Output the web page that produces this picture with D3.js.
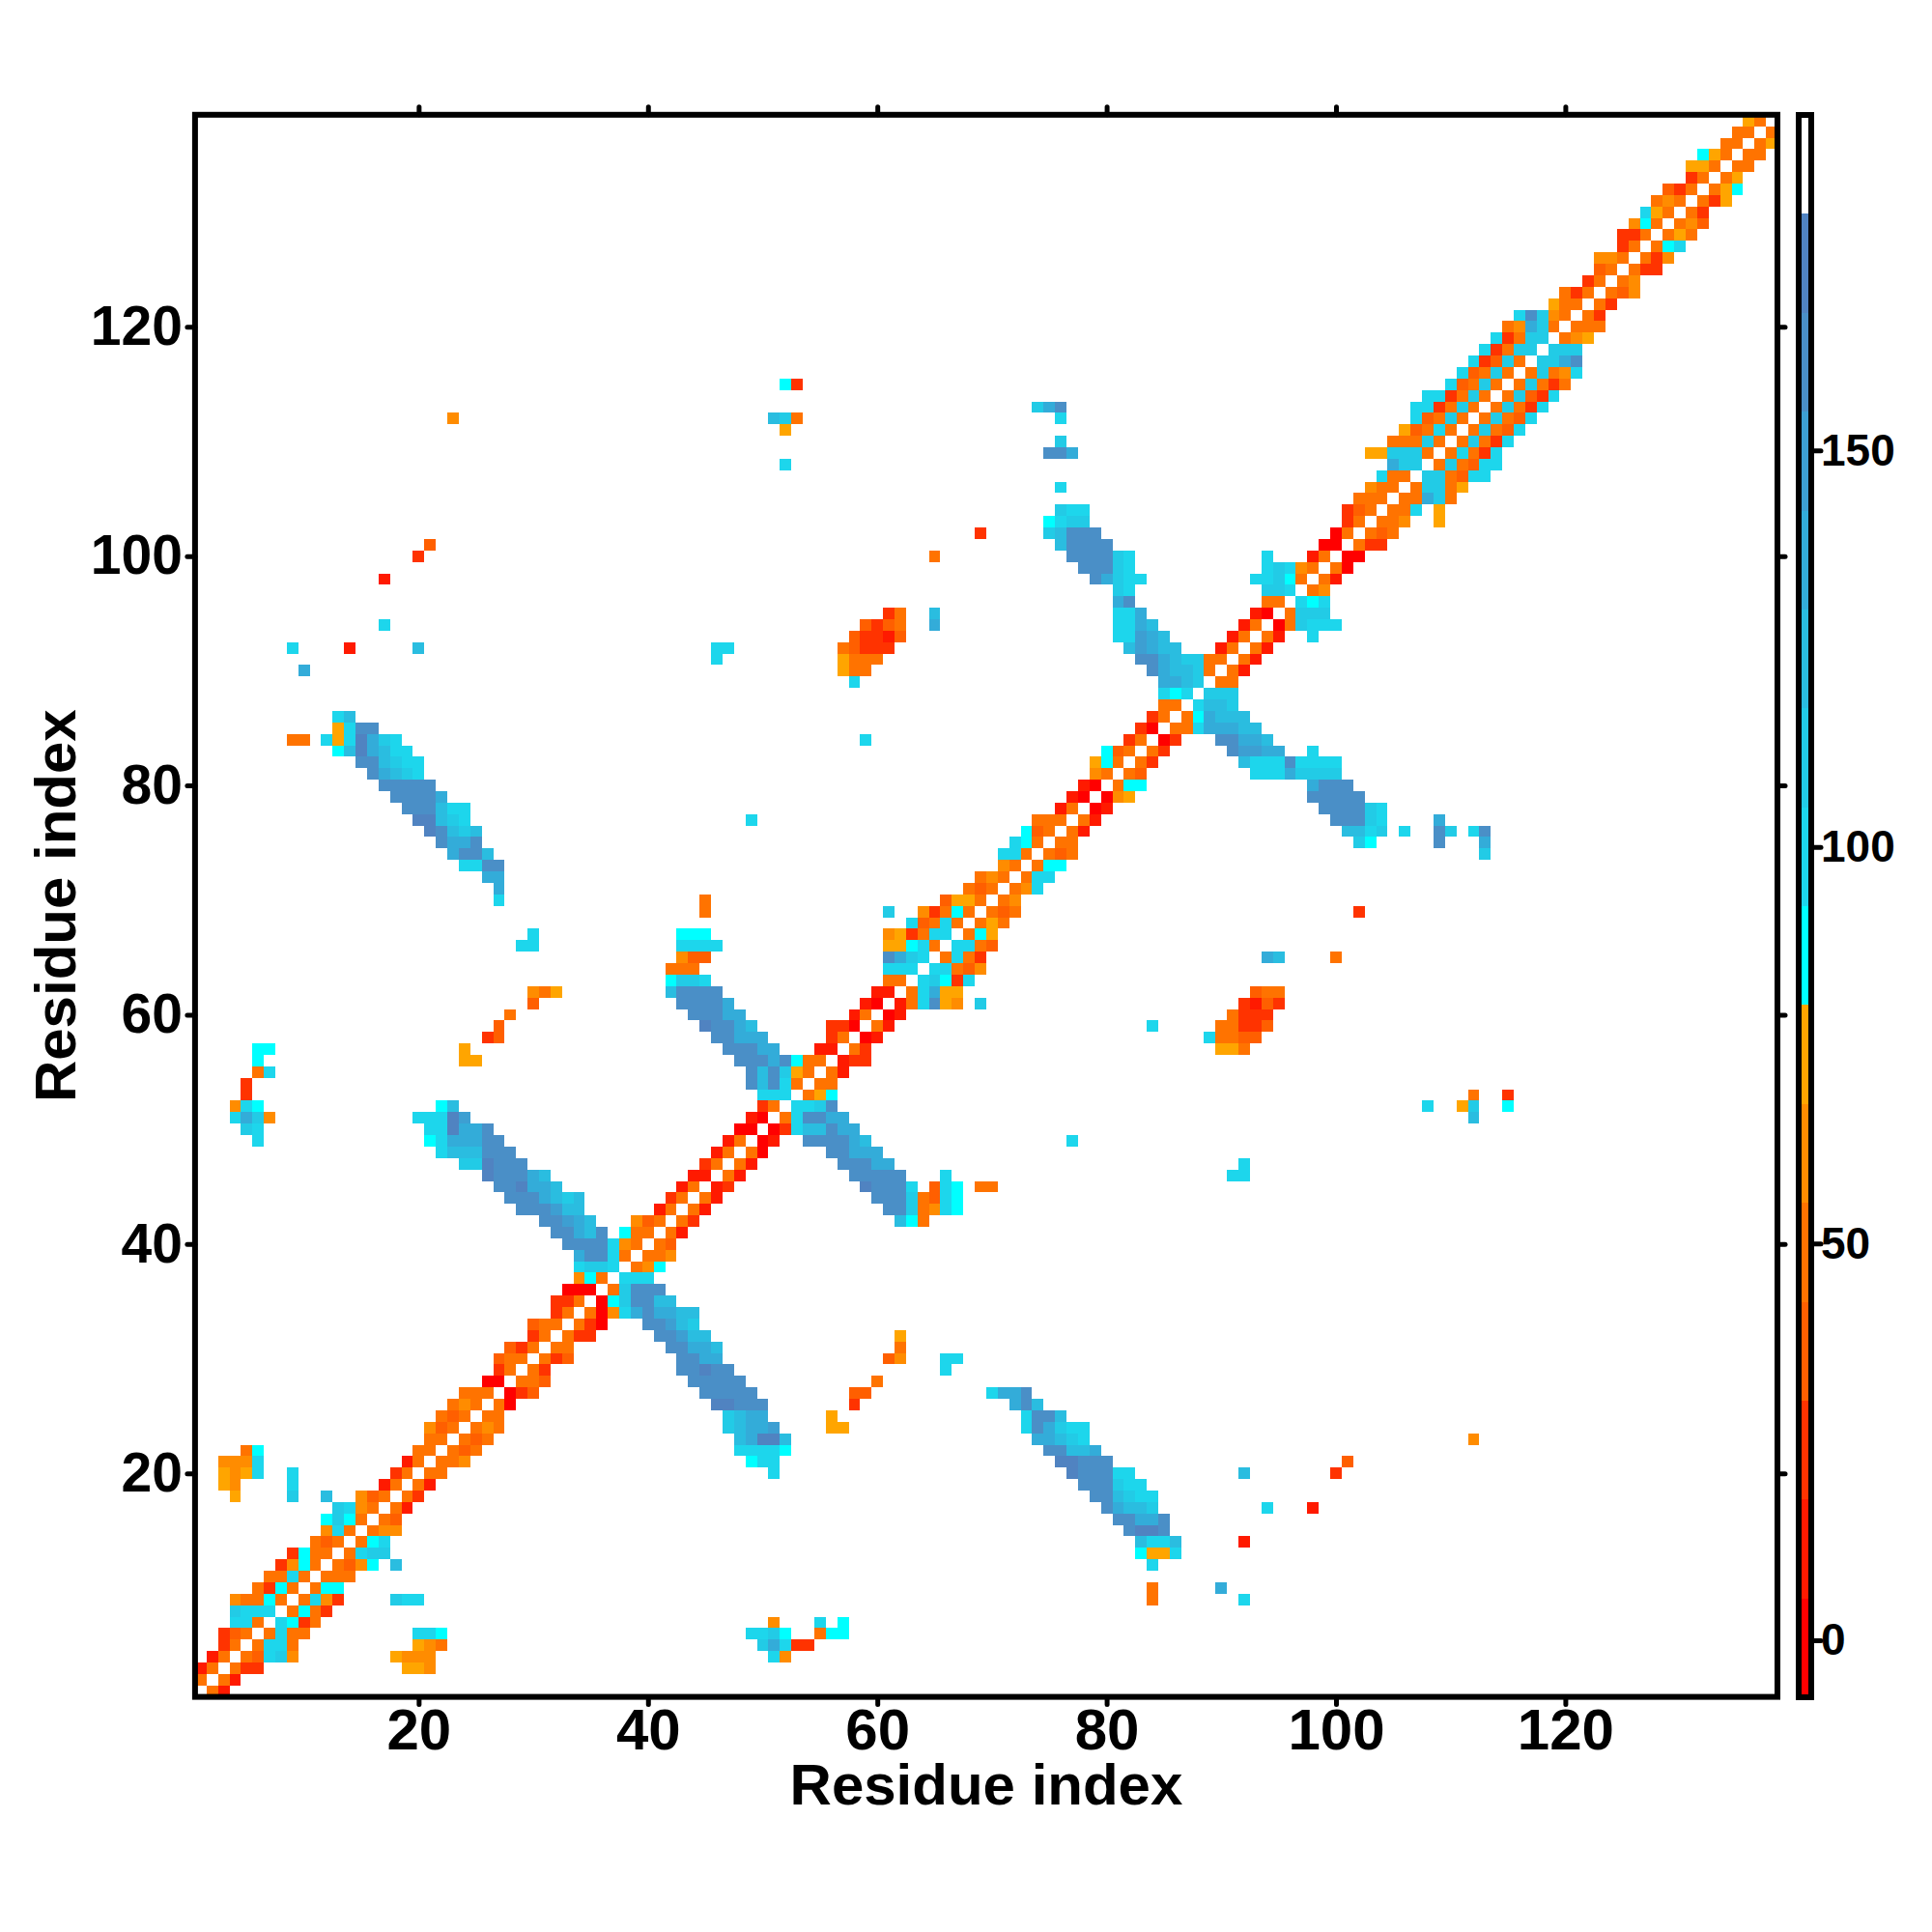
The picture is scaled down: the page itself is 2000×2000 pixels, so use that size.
<!DOCTYPE html>
<html>
<head>
<meta charset="utf-8">
<title>Residue contact map</title>
<script src="https://cdn.jsdelivr.net/npm/d3@7"></script>
<style>
    html, body { margin: 0; background: #fff; }
    text { font-family: "Liberation Sans", Arial, sans-serif; font-weight: bold; fill: #000; }
    .tick line { stroke: #000; stroke-linecap: round; }
</style>
</head>
<body>
<svg id="chart" width="2000" height="2000"></svg>
<script>
// each entry: row, first column, values going right. Only the part right of the
// diagonal is listed, the map is symmetric and the other half is mirrored below
var contactRuns = [
    [1,2,[50,12]],
    [2,3,[50,12]],
    [3,4,[50,25,25]],[3,19,[75,75,62]],
    [4,5,[50,37,100,112,62]],[4,18,[75,62,62,62]],[4,51,[100,62]],
    [5,6,[50,100,100,50]],[5,20,[75,62,50]],[5,50,[112,137,100,25,25]],
    [6,7,[50,100,50,50]],[6,20,[100,100,87]],[6,49,[100,100,112,87]],[6,55,[50,87,87]],
    [7,8,[100,87,25,50]],[7,51,[62]],[7,55,[100]],[7,57,[87]],
    [8,9,[50,87,50,25]],
    [9,10,[50,100,62,25]],[9,18,[112,100,100]],[9,84,[50]],[9,92,[100]],
    [10,11,[50,87,87]],[10,84,[50]],[10,90,[137]],
    [11,12,[50,50,50]],
    [12,13,[50,37,62,87]],[12,18,[125]],[12,84,[100]],
    [13,14,[50,100,112,112]],[13,83,[87,75,75,100]],
    [14,15,[50,87,100]],[14,83,[125,100,100,125]],[14,92,[12]],
    [15,16,[50,62,62]],[15,82,[162,175,175,162]],
    [16,17,[50,37]],[16,81,[162,162,137,137,162]],
    [17,18,[50,12]],[17,80,[162,137,125,125,112]],[17,94,[100]],[17,98,[12]],
    [18,19,[50,25]],[18,79,[162,162,125,112,100,100]],
    [19,20,[50,12]],[19,78,[162,162,162,112,100,100]],
    [20,21,[50,50]],[20,51,[100]],[20,77,[175,162,162,162,100,100]],[20,92,[125]],[20,100,[25]],
    [21,22,[50,50,62]],[21,49,[87,100,100]],[21,76,[175,175,162,162,162]],[21,101,[37]],
    [22,23,[50,37,50]],[22,48,[100,100,100,100,87]],[22,75,[162,162,125,125,137]],
    [23,24,[50,37,50]],[23,48,[125,137,175,175,125]],[23,74,[137,137,125,112,100]],[23,112,[62]],
    [24,25,[50,62,50]],[24,47,[112,125,137,137,150]],[24,56,[75,75]],[24,73,[100,162,137,112,100,100]],
    [25,26,[50,50]],[25,47,[112,125,137,137]],[25,56,[75]],[25,73,[100,162,162,125]],
    [26,27,[50,0]],[26,46,[175,175,162,162,162]],[26,58,[25]],[26,72,[137,162,125]],
    [27,28,[0,25,37]],[27,45,[162,162,162,162,162]],[27,58,[37,37]],[27,70,[100,137,137,162]],
    [28,29,[50,50,37]],[28,44,[162,162,162,162,162]],[28,60,[50]],
    [29,30,[50,25]],[29,43,[162,162,175,162,162]],[29,66,[100]],
    [30,31,[50,25,37]],[30,43,[162,162,137,137]],[30,61,[37,62]],[30,66,[100,100]],
    [31,32,[50,50]],[31,42,[162,162,137,137,125]],[31,62,[50]],
    [32,33,[50,25,25]],[32,41,[162,162,150,125,125]],[32,62,[75]],
    [33,34,[50,25,0]],[33,40,[162,162,150,125,112]],
    [34,35,[50,0,62,100,137,162,137,137,125,125]],
    [35,36,[0,87,112,162,162,125,125]],
    [36,37,[50,112,162,162,162]],
    [37,38,[100,100,100]],
    [38,39,[50,62,87]],
    [39,40,[50,50,62]],
    [40,41,[50,37]],
    [41,42,[50,12]],
    [42,43,[50,25]],[42,62,[125,87,50]],
    [43,44,[50,12]],[43,61,[162,162,112,50,62,100,87]],
    [44,45,[50,12]],[44,60,[162,162,162,112,50,37,100,87]],
    [45,46,[12,25]],[45,59,[175,162,162,162,100]],[45,65,[37,100,87]],[45,69,[50,50]],
    [46,47,[50,12]],[46,58,[162,162,162,162,162]],[46,66,[100]],[46,91,[100,100]],
    [47,48,[50,12]],[47,57,[162,162,162,137,137]],[47,92,[100]],
    [48,49,[50,0]],[48,56,[162,162,137,137,137]],
    [49,50,[0,12]],[49,54,[162,162,162,162,137,125]],[49,77,[100]],
    [50,51,[0,25,100,125,125,162,137,137]],
    [51,52,[50,100,162,162,137,137]],[51,112,[125]],
    [52,53,[100,100,112,162]],[52,108,[100]],[52,111,[75,112]],[52,115,[87]],
    [53,54,[50,75,87]],[53,112,[50]],[53,115,[25]],
    [54,55,[50,50]],
    [55,56,[50,12]],
    [56,57,[12,25,25]],
    [57,58,[50,25]],[57,90,[75,75,50]],
    [58,59,[0,12]],[58,89,[100,50,50,37,37]],
    [59,60,[50,12]],[59,84,[100]],[59,90,[50,50,25,25,37]],
    [60,61,[0,12]],[60,91,[50,25,25,25]],
    [61,62,[12,50,100,162,75,62]],[61,69,[112]],[61,92,[25,12,37,25]],
    [62,63,[50,100,137,75,75]],[62,93,[37,50,50]],
    [63,64,[100,112,87,25,100]],
    [64,65,[100,100,50,37,62]],
    [65,66,[50,100,50,25]],[65,94,[137,125]],[65,100,[50]],
    [66,67,[100,100,50,37]],
    [67,68,[50,87,75]],
    [68,69,[50,75,50]],
    [69,70,[50,37,50]],[69,102,[25]],
    [70,71,[50,62]],
    [71,72,[50,62,100]],
    [72,73,[50,100,100]],
    [73,74,[50,87,87]],
    [74,75,[50,37,50]],[74,113,[112]],
    [75,76,[50,50]],[75,102,[112,87]],[75,109,[162]],[75,113,[137]],
    [76,77,[50,12]],[76,101,[125,125,100,112]],[76,106,[100]],[76,109,[162,112]],[76,112,[100,162]],
    [77,78,[50,12]],[77,100,[162,162,162,112,100]],[77,109,[137]],
    [78,79,[0,12]],[78,99,[162,162,162,162,112,100]],
    [79,80,[0,62,75]],[79,98,[162,162,162,162,162]],
    [80,81,[50,87,87]],[80,98,[137,162,162,162]],
    [81,82,[50,37]],[81,93,[100,100,100,137,112,112,112,112]],
    [82,83,[50,25]],[82,92,[125,100,100,100,162,100,100,100,100]],
    [83,84,[50,25]],[83,91,[162,150,150,137,137]],[83,98,[100]],
    [84,85,[0,25]],[84,90,[162,162,137,137,125]],
    [85,86,[50,50,100,137,137,137,125,125]],
    [86,87,[50,87,137,125,125,125]],
    [87,88,[100,125,125,112]],
    [88,89,[112,112,112]],
    [89,90,[50,50]],
    [90,91,[50,12]],
    [91,92,[50,12]],
    [92,93,[50,12]],
    [93,94,[50,12]],[93,98,[100]],
    [94,95,[0,50,112,100,100,100]],
    [95,96,[50,112,112,112]],
    [96,97,[100,87,100]],
    [97,98,[50,62]],
    [98,99,[50,12]],
    [99,100,[50,0]],
    [100,101,[0,0]],
    [101,102,[50,25,25]],
    [102,103,[50,37,50]],
    [103,104,[50,50,62]],[103,109,[75]],
    [104,105,[50,50,100]],[104,109,[75]],
    [105,106,[50,50,137,112,50]],
    [106,107,[50,112,112,50,75]],
    [107,108,[112,112,50,37,100,100]],
    [108,109,[50,112,50,37,100,100]],
    [109,110,[50,100,50,25,100]],
    [110,111,[50,112,50,25,100]],
    [111,112,[50,112,50,37,100]],
    [112,113,[50,112,50,37,100]],
    [113,114,[50,112,50,25,100]],
    [114,115,[50,112,37,25,100]],
    [115,116,[50,112,50,25,50]],
    [116,117,[50,112,50,62,100]],
    [117,118,[112,112,137,162]],
    [118,119,[112,112,112]],
    [119,120,[50,62,75]],
    [120,121,[50,50,50]],
    [121,122,[50,25]],
    [122,123,[50,25]],
    [123,124,[50,37,62]],
    [124,125,[50,62]],
    [125,126,[50,25,25]],
    [126,127,[50,25,62]],
    [127,128,[50,87,100]],
    [128,129,[50,75,50]],
    [129,130,[50,62,37]],
    [130,131,[50,25]],
    [131,132,[50,25,75]],
    [132,133,[50,75,87]],
    [133,134,[50,75]],
    [134,135,[50,50]],
    [135,136,[50,50]],
    [136,137,[50,75]],
    [137,138,[50]]
];

var residueTicks = [20, 40, 60, 80, 100, 120];
var colorbarTicks = [0, 50, 100, 150];
var levelColors = ['#ff0000', '#ff1a00', '#ff3300', '#ff5f00', '#ff7300', '#ff8c00', '#ffa500',
    '#00ffff', '#1dd6ec', '#22cbe6', '#2abde0', '#33acd9', '#3d9fd2', '#4a8fc7', '#5083c1', '#ffffff'];
var axisTitle = 'Residue index';

var plot = {left: 201.9, right: 1840, top: 118.8, bottom: 1756.6};
var bar = {left: 1862, right: 1875, top: 119, bottom: 1757};

var svg = d3.select('#chart');

var x = d3.scaleLinear().domain([0.5, 138.5]).range([plot.left, plot.right]);
var y = d3.scaleLinear().domain([0.5, 138.5]).range([plot.bottom, plot.top]);
var color = d3.scaleQuantize().domain([-7.2, 192.3]).range(levelColors);
var barY = d3.scaleLinear().domain([-7.2, 192.3]).range([bar.bottom, bar.top]);

var cells = [];
contactRuns.forEach(function(run){
    run[2].forEach(function(value, k){
        var row = run[0], col = run[1] + k;
        cells.push({col: col, row: row, value: value});
        cells.push({col: row, row: col, value: value});
    });
});

svg.append('g').selectAll('rect')
    .data(cells)
    .enter()
    .append('rect')
    .attr('x', function(d){ return x(d.col - 0.5); })
    .attr('y', function(d){ return y(d.row + 0.5); })
    .attr('width', function(d){ return x(d.col + 0.5) - x(d.col - 0.5); })
    .attr('height', function(d){ return y(d.row - 0.5) - y(d.row + 0.5); })
    .attr('fill', function(d){ return color(d.value); })
    .attr('shape-rendering', 'crispEdges');

function drawAxis(axis, tx, ty, fontSize){
    var g = svg.append('g')
        .attr('transform', 'translate(' + tx + ',' + ty + ')')
        .call(axis);
    g.select('.domain').remove();
    g.selectAll('.tick line').attr('stroke-width', 5);
    g.selectAll('.tick text').style('font-size', fontSize + 'px');
    return g;
}

drawAxis(d3.axisBottom(x).tickValues(residueTicks).tickSize(8).tickPadding(4), 0, plot.bottom, 60);
drawAxis(d3.axisLeft(y).tickValues(residueTicks).tickSize(8).tickPadding(5), plot.left, 0, 57);
drawAxis(d3.axisTop(x).tickValues(residueTicks).tickSize(8).tickFormat(''), 0, plot.top, 60);
drawAxis(d3.axisRight(y).tickValues(residueTicks).tickSize(8).tickFormat(''), plot.right, 0, 60);

svg.append('rect')
    .attr('x', plot.left)
    .attr('y', plot.top)
    .attr('width', plot.right - plot.left)
    .attr('height', plot.bottom - plot.top)
    .attr('fill', 'none')
    .attr('stroke', '#000')
    .attr('stroke-width', 6);

// colorbar
svg.append('g').selectAll('rect')
    .data(levelColors)
    .enter()
    .append('rect')
    .attr('x', bar.left)
    .attr('width', bar.right - bar.left)
    .attr('y', function(c){ return barY(color.invertExtent(c)[1]); })
    .attr('height', function(c){ return barY(color.invertExtent(c)[0]) - barY(color.invertExtent(c)[1]); })
    .attr('fill', function(c){ return c; })
    .attr('shape-rendering', 'crispEdges');

svg.append('rect')
    .attr('x', bar.left)
    .attr('y', bar.top)
    .attr('width', bar.right - bar.left)
    .attr('height', bar.bottom - bar.top)
    .attr('fill', 'none')
    .attr('stroke', '#000')
    .attr('stroke-width', 6);

drawAxis(d3.axisRight(barY).tickValues(colorbarTicks).tickSize(10).tickPadding(0), bar.right, 0, 46);

svg.append('text')
    .attr('x', (plot.left + plot.right) / 2)
    .attr('y', 1868)
    .attr('text-anchor', 'middle')
    .style('font-size', '60px')
    .text(axisTitle);

svg.append('text')
    .attr('transform', 'translate(78,' + (plot.top + plot.bottom) / 2 + ') rotate(-90)')
    .attr('text-anchor', 'middle')
    .style('font-size', '60px')
    .text(axisTitle);
</script>
</body>
</html>
